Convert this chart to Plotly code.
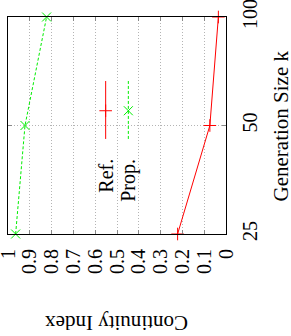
import math
import plotly.graph_objects as go

# ---- data ----
gen_size = [25, 50, 100]
ref_ci = [0.222, 0.074, 0.035]
prop_ci = [0.965, 0.922, 0.823]
y_ticks = [25, 50, 100]
x_ticks = [0, 0.1, 0.2, 0.3, 0.4, 0.5, 0.6, 0.7, 0.8, 0.9, 1]
x_tick_text = ["0", "0.1", "0.2", "0.3", "0.4", "0.5", "0.6", "0.7", "0.8", "0.9", "1"]
series_names = ["Ref.", "Prop."]
series_colors = ["#ff0000", "#00ee00"]

FONT = "Liberation Serif, Times New Roman, serif"
EPS = 1e-6

fig = go.Figure()
fig.add_trace(go.Scatter(
    x=ref_ci, y=gen_size, mode="lines+markers", name=series_names[0],
    line=dict(color=series_colors[0], width=1),
    marker=dict(symbol="cross-thin", size=9, line=dict(color=series_colors[0], width=1)),
    showlegend=False, cliponaxis=False))
fig.add_trace(go.Scatter(
    x=prop_ci, y=gen_size, mode="lines+markers", name=series_names[1],
    line=dict(color=series_colors[1], width=1, dash="3px,2px"),
    marker=dict(symbol="x-thin", size=9, line=dict(color=series_colors[1], width=1)),
    showlegend=False, cliponaxis=False))

# ---- manual rotated legend (on overlay axes 0..1) ----
leg_x = [0.448, 0.552]
for i in range(2):
    fig.add_trace(go.Scatter(
        x=[leg_x[i], leg_x[i]], y=[0.438, 0.705], mode="lines",
        line=dict(color=series_colors[i], width=1, dash=None if i == 0 else "3px,2px"),
        xaxis="x2", yaxis="y2", showlegend=False, hoverinfo="skip"))
    fig.add_trace(go.Scatter(
        x=[leg_x[i]], y=[0.568], mode="markers",
        marker=dict(symbol="cross-thin" if i == 0 else "x-thin", size=9,
                    line=dict(color=series_colors[i], width=1)),
        xaxis="x2", yaxis="y2", showlegend=False, hoverinfo="skip"))
    fig.add_annotation(x=leg_x[i], y=0.355, xref="paper", yref="paper",
                       text=series_names[i], textangle=-90, showarrow=False,
                       xanchor="center", yanchor="top",
                       font=dict(family=FONT, size=20, color="black"))

fig.add_shape(type="rect", xref="paper", yref="paper", x0=0.399, x1=0.606,
              y0=0.055, y1=0.770, fillcolor="white", line=dict(width=0),
              layer="between")

# axis titles
fig.add_annotation(x=1.252, y=0.5, xref="paper", yref="paper",
                   text="Generation Size k", textangle=-90, showarrow=False,
                   xanchor="center", yanchor="middle",
                   font=dict(family=FONT, size=21, color="black"))
fig.add_annotation(x=0.5, y=-0.410, xref="paper", yref="paper",
                   text="Continuity Index", textangle=180, showarrow=False,
                   xanchor="center", yanchor="middle",
                   font=dict(family=FONT, size=21, color="black"))

grid = dict(showgrid=True, gridcolor="#b4b4b4", griddash="1px,2px", gridwidth=1)
fig.update_layout(
    width=291, height=336,
    margin=dict(l=8, r=65, t=17, b=102, autoexpand=False),
    paper_bgcolor="white", plot_bgcolor="white",
    font=dict(family=FONT, size=20, color="black"),
    xaxis=dict(range=[1 + EPS, 0 - EPS], tickvals=x_ticks, ticktext=x_tick_text,
               tickangle=-90, ticks="inside", ticklen=4, tickcolor="#888",
               showline=True, linecolor="black", linewidth=1, mirror="ticks",
               zeroline=False, ticklabelstandoff=6, automargin=False,
               ticklabeloverflow="allow", **grid),
    yaxis=dict(type="log", range=[math.log10(25) - EPS, 2.0 + EPS], tickvals=y_ticks,
               ticktext=[str(v) for v in y_ticks], side="right",
               tickangle=-90, ticks="inside", ticklen=4, tickcolor="#888",
               showline=True, linecolor="black", linewidth=1, mirror="ticks",
               zeroline=False, ticklabelstandoff=6, automargin=False,
               ticklabeloverflow="allow", **grid),
    xaxis2=dict(overlaying="x", range=[0, 1], visible=False),
    yaxis2=dict(overlaying="y", range=[0, 1], visible=False),
)

fig.write_html("out.html", config={"displayModeBar": False, "staticPlot": True},
               post_script="document.body.style.margin='0';document.body.style.overflow='hidden';")
